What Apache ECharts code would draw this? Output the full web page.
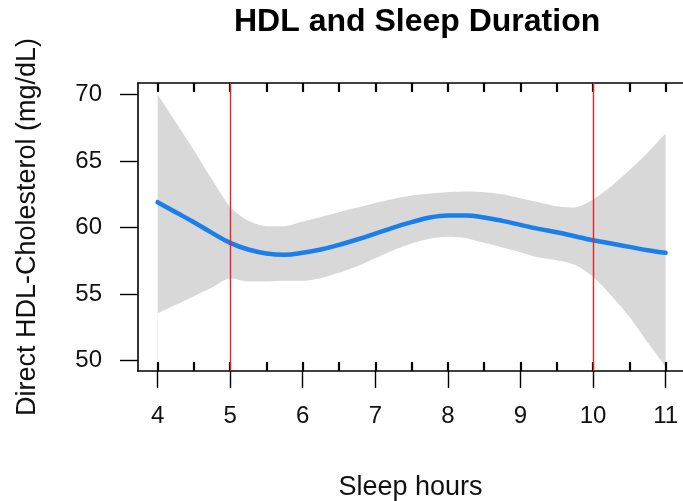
<!DOCTYPE html>
<html>
<head>
<meta charset="utf-8">
<script src="https://cdn.jsdelivr.net/npm/echarts@6/dist/echarts.min.js"></script>
<style>html,body{margin:0;padding:0;background:#fff}#c{width:683px;height:501px}</style>
</head>
<body>
<div id="c"></div>
<script>
var hours = [4, 4.25, 4.5, 4.75, 5, 5.25, 5.5, 5.75, 6, 6.25, 6.5, 6.75, 7, 7.25, 7.5, 7.75, 8, 8.25, 8.5, 8.75, 9, 9.25, 9.5, 9.75, 10, 10.25, 10.5, 10.75, 11];
var fitHDL = [61.9, 61.15, 60.4, 59.6, 58.85, 58.35, 58.05, 57.95, 58.1, 58.35, 58.7, 59.1, 59.55, 60.0, 60.4, 60.75, 60.9, 60.9, 60.75, 60.5, 60.2, 59.9, 59.65, 59.35, 59.05, 58.8, 58.55, 58.3, 58.1];
var upperHDL = [70.0, 67.9, 65.8, 63.6, 61.55, 60.5, 60.1, 60.1, 60.45, 60.8, 61.15, 61.5, 61.85, 62.15, 62.4, 62.55, 62.65, 62.7, 62.65, 62.5, 62.2, 61.9, 61.6, 61.5, 62.1, 63.1, 64.3, 65.6, 67.05];
var lowerHDL = [53.55, 54.2, 54.85, 55.5, 56.2, 55.95, 55.95, 56.0, 56.0, 56.2, 56.6, 57.1, 57.7, 58.3, 58.8, 59.15, 59.3, 59.2, 58.85, 58.5, 58.15, 57.75, 57.55, 57.2, 56.3, 54.9, 53.3, 51.4, 49.55];
var refLines = [5, 10];
var xTickLabels = [4, 5, 6, 7, 8, 9, 10, 11];
var xRugTicks = [4, 4.5, 5, 5.5, 6, 6.5, 7, 7.5, 8, 8.5, 9, 9.5, 10, 10.5, 11];
var yTickLabels = [50, 55, 60, 65, 70];

var FONT = 'Liberation Sans, Arial, sans-serif';
var chart = echarts.init(document.getElementById('c'), null, {renderer: 'canvas'});
var XMIN = 3.73, XMAX = 11.24;
chart.setOption({
  animation: false,
  backgroundColor: '#ffffff',
  title: {
    text: 'HDL and Sleep Duration',
    left: 229, top: 1,
    textStyle: {fontFamily: FONT, fontWeight: 'bold', fontSize: 32, color: '#000'}
  },
  grid: {left: 138, right: 0, top: 83, bottom: 130, containLabel: false, outerBoundsMode: 'none'},
  xAxis: [
    {
      type: 'value', min: XMIN, max: XMAX, position: 'bottom', z: 10,
      name: 'Sleep hours', nameLocation: 'middle', nameGap: 103,
      nameTextStyle: {fontFamily: FONT, fontSize: 27, color: '#111'},
      axisLine: {show: true, onZero: false, lineStyle: {color: '#000', width: 1.6}},
      axisTick: {show: true, inside: false, length: 17, customValues: xTickLabels, lineStyle: {color: '#000', width: 1.4}},
      axisLabel: {show: true, customValues: xTickLabels, margin: 33, fontFamily: FONT, fontSize: 24, color: '#111'},
      splitLine: {show: false}
    },
    {
      type: 'value', min: XMIN, max: XMAX, position: 'bottom', z: 10,
      axisLine: {show: false, onZero: false},
      axisTick: {show: true, inside: true, length: 9, customValues: xRugTicks, lineStyle: {color: '#000', width: 2.2}},
      axisLabel: {show: false},
      splitLine: {show: false}
    },
    {
      type: 'value', min: XMIN, max: XMAX, position: 'top', z: 10,
      axisLine: {show: true, onZero: false, lineStyle: {color: '#000', width: 1.6}},
      axisTick: {show: true, inside: true, length: 9, customValues: xRugTicks, lineStyle: {color: '#000', width: 2.2}},
      axisLabel: {show: false},
      splitLine: {show: false}
    }
  ],
  yAxis: {
    type: 'value', min: 49.23, max: 70.85, z: 10,
    name: 'Direct HDL-Cholesterol (mg/dL)', nameLocation: 'middle', nameGap: 97,
    nameTextStyle: {fontFamily: FONT, fontSize: 27, color: '#111'},
    axisLine: {show: true, onZero: false, lineStyle: {color: '#000', width: 1.6}},
    axisTick: {show: true, length: 18, customValues: yTickLabels, lineStyle: {color: '#000', width: 1.4}},
    axisLabel: {show: true, customValues: yTickLabels, margin: 36, fontFamily: FONT, fontSize: 24, color: '#111'},
    splitLine: {show: false}
  },
  series: [
    {
      type: 'line', name: 'upper', xAxisIndex: 0,
      data: hours.map(function (h, i) { return [h, upperHDL[i]]; }),
      smooth: 0.25, symbol: 'none', lineStyle: {opacity: 0},
      areaStyle: {color: '#d8d8d8', opacity: 1, origin: 'start'}, silent: true, z: 1
    },
    {
      type: 'line', name: 'lower', xAxisIndex: 0,
      data: hours.map(function (h, i) { return [h, lowerHDL[i]]; }),
      smooth: 0.25, symbol: 'none', lineStyle: {opacity: 0},
      areaStyle: {color: '#ffffff', opacity: 1, origin: 'start'}, silent: true, z: 1
    },
    {
      type: 'line', name: 'fit', xAxisIndex: 0,
      data: hours.map(function (h, i) { return [h, fitHDL[i]]; }),
      smooth: 0.4, symbol: 'none',
      lineStyle: {color: '#1a7fea', width: 4.5, cap: 'round'}, z: 12,
      markLine: {
        silent: true, symbol: 'none', label: {show: false}, z: 20,
        lineStyle: {color: '#e3262b', width: 1.4, type: 'solid'},
        data: refLines.map(function (v) { return {xAxis: v}; })
      }
    }
  ]
});
</script>
</body>
</html>
